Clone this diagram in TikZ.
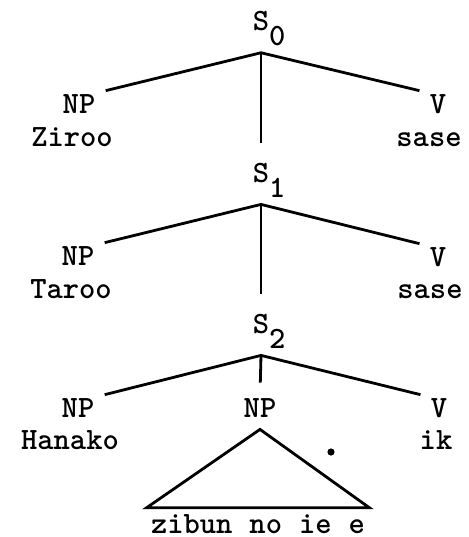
\documentclass[tikz,border=0pt]{standalone}
\newcommand{\tw}{\ttfamily\bfseries\fontsize{15.5}{18}\selectfont}

\begin{document}
\begin{tikzpicture}[x=0.5pt,y=-0.5pt,font=\tw,
 cat/.style={anchor=base,inner xsep=5pt,inner ysep=1.5pt},
 snode/.style={anchor=base,inner sep=3.5pt},
 word/.style={anchor=base},
 edge/.style={line width=1.4pt},
 stem/.style={edge,shorten >=6pt}]
\useasboundingbox (0,0) rectangle (469,537);
% S0
\node[snode] (s0) at (261,30) {S\rlap{\raisebox{-7.5pt}{0}}};
\node[cat] (np0) at (79,113) {NP};
\node[word] (w0) at (72,146) {Ziroo};
\node[cat] (v0) at (438,113) {V};
\node[word] (x0) at (429,146) {sase};
\draw[edge] (np0.north east) -- (s0.south) -- (v0.north west);
% S1
\node[snode] (s1) at (261,182) {S\rlap{\raisebox{-7.5pt}{1}}};
\node[cat] (np1) at (78,265) {NP};
\node[word] (w1) at (71,298) {Taroo};
\node[cat] (v1) at (438,266) {V};
\node[word] (x1) at (430,298) {sase};
\draw[edge] (np1.north east) -- (s1.south) -- (v1.north west);
\draw[stem] (s0.south) -- (s1.north);
% S2
\node[snode] (s2) at (261,333) {S\rlap{\raisebox{-7.5pt}{2}}};
\node[cat] (np2) at (78,417) {NP};
\node[word] (w2) at (70,449) {Hanako};
\node[cat] (npm) at (260,417) {NP};
\node[cat] (v2) at (439,417) {V};
\node[word] (x2) at (436,449) {ik};
\draw[edge] (np2.north east) -- (s2.south) -- (v2.north west);
\draw[stem] (s1.south) -- (s2.north);
\draw[stem] (s2.south) -- (npm.north);
% embedded NP
\node[word,inner xsep=2pt,inner ysep=3pt] (zib) at (258,533) {\spaceskip=8.5pt zibun no ie e};
\draw[edge,line join=miter] ([yshift=-4.5pt]npm.south) -- (zib.north west) -- (zib.north east) -- cycle;
\fill (331,452) circle (1.8pt);
\end{tikzpicture}
\end{document}
